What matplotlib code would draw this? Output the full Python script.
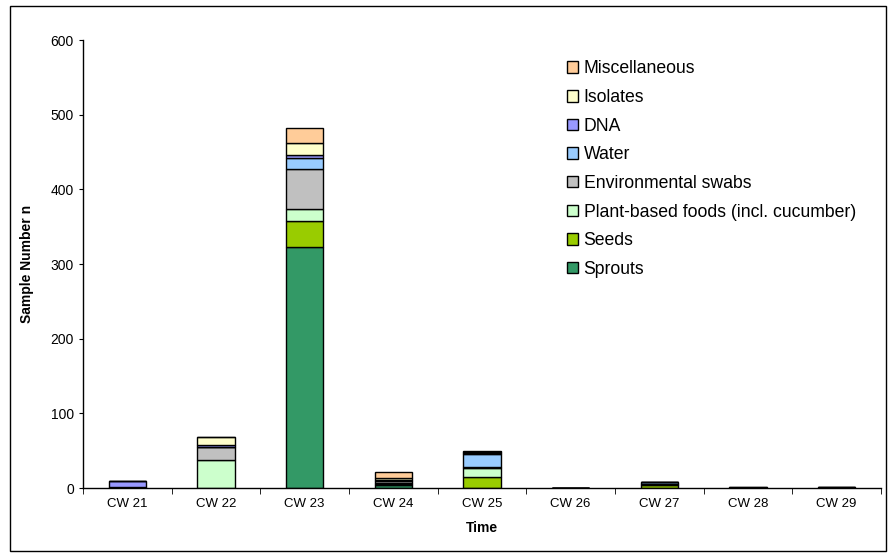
import matplotlib
matplotlib.use('Agg')
import matplotlib.pyplot as plt
import matplotlib.patches as patches
import numpy as np

plt.rcParams['font.family'] = ['Liberation Sans', 'DejaVu Sans']

weeks = ['CW 21', 'CW 22', 'CW 23', 'CW 24', 'CW 25', 'CW 26', 'CW 27', 'CW 28', 'CW 29']

# bottom -> top order of the stack
sprouts   = [0, 0, 323, 4, 0, 0, 0, 0, 0]
seeds     = [0, 0, 35, 1, 15, 0, 4, 0, 0]
plant     = [0, 37, 15, 2, 12, 0, 1, 0, 0]
env_swabs = [2, 18, 54, 3, 1, 0, 0, 0, 0]
water     = [0, 0, 15, 1, 17, 0, 3, 0, 0]
dna       = [8, 3, 4, 0, 2, 0, 0, 0, 1]
isolates  = [0, 10, 16, 2, 1, 0, 0, 1, 0]
misc      = [0, 0, 20, 8, 2, 0, 0, 0, 0]

series = [
    ('Sprouts', sprouts, '#339966'),
    ('Seeds', seeds, '#99CC00'),
    ('Plant-based foods (incl. cucumber)', plant, '#CCFFCC'),
    ('Environmental swabs', env_swabs, '#C0C0C0'),
    ('Water', water, '#99CCFF'),
    ('DNA', dna, '#9999FF'),
    ('Isolates', isolates, '#FFFFCC'),
    ('Miscellaneous', misc, '#FFCC99'),
]

fig = plt.figure(figsize=(8.9, 5.57), dpi=100)
ax = fig.add_axes([83/890, 1-488/557, 798/890, 448/557])

x = np.arange(len(weeks))
bottom = np.zeros(len(weeks))
handles = []
for name, vals, col in series:
    vals = np.array(vals, dtype=float)
    b = ax.bar(x, vals, width=0.42, bottom=bottom, color=col,
               edgecolor='black', linewidth=1.0, label=name)
    handles.append(b)
    bottom += vals

ax.set_xlim(-0.5, len(weeks)-0.5)
ax.set_ylim(0, 600)
ax.set_yticks(np.arange(0, 601, 100))
ax.set_xticks(x)
ax.set_xticklabels(weeks)
ax.set_xticks(np.arange(-0.5, len(weeks), 1), minor=True)
ax.tick_params(axis='x', which='major', length=0, labelsize=9.5, pad=7)
ax.tick_params(axis='x', which='minor', length=4, direction='out')
ax.tick_params(axis='y', length=3, direction='out', labelsize=10)
for s in ['top', 'right']:
    ax.spines[s].set_visible(False)
ax.spines['left'].set_linewidth(1.0)
ax.spines['bottom'].set_linewidth(1.0)

ax.set_xlabel('Time', fontsize=10, fontweight='bold', labelpad=8)
ax.set_ylabel('Sample Number n', fontsize=10, fontweight='bold', labelpad=12)

leg = ax.legend(handles[::-1], [s[0] for s in series][::-1],
                loc='upper left', bbox_to_anchor=(0.587, 0.99),
                frameon=False, fontsize=12.7, handlelength=0.62,
                handleheight=0.62, handletextpad=0.3, labelspacing=0.66)

# outer chart frame
fig.patches.append(patches.Rectangle((10/890, 6/557), 876/890, 545/557,
                                     transform=fig.transFigure, fill=False,
                                     edgecolor='black', linewidth=1.0))

fig.savefig('out.png', dpi=100, facecolor='white')
